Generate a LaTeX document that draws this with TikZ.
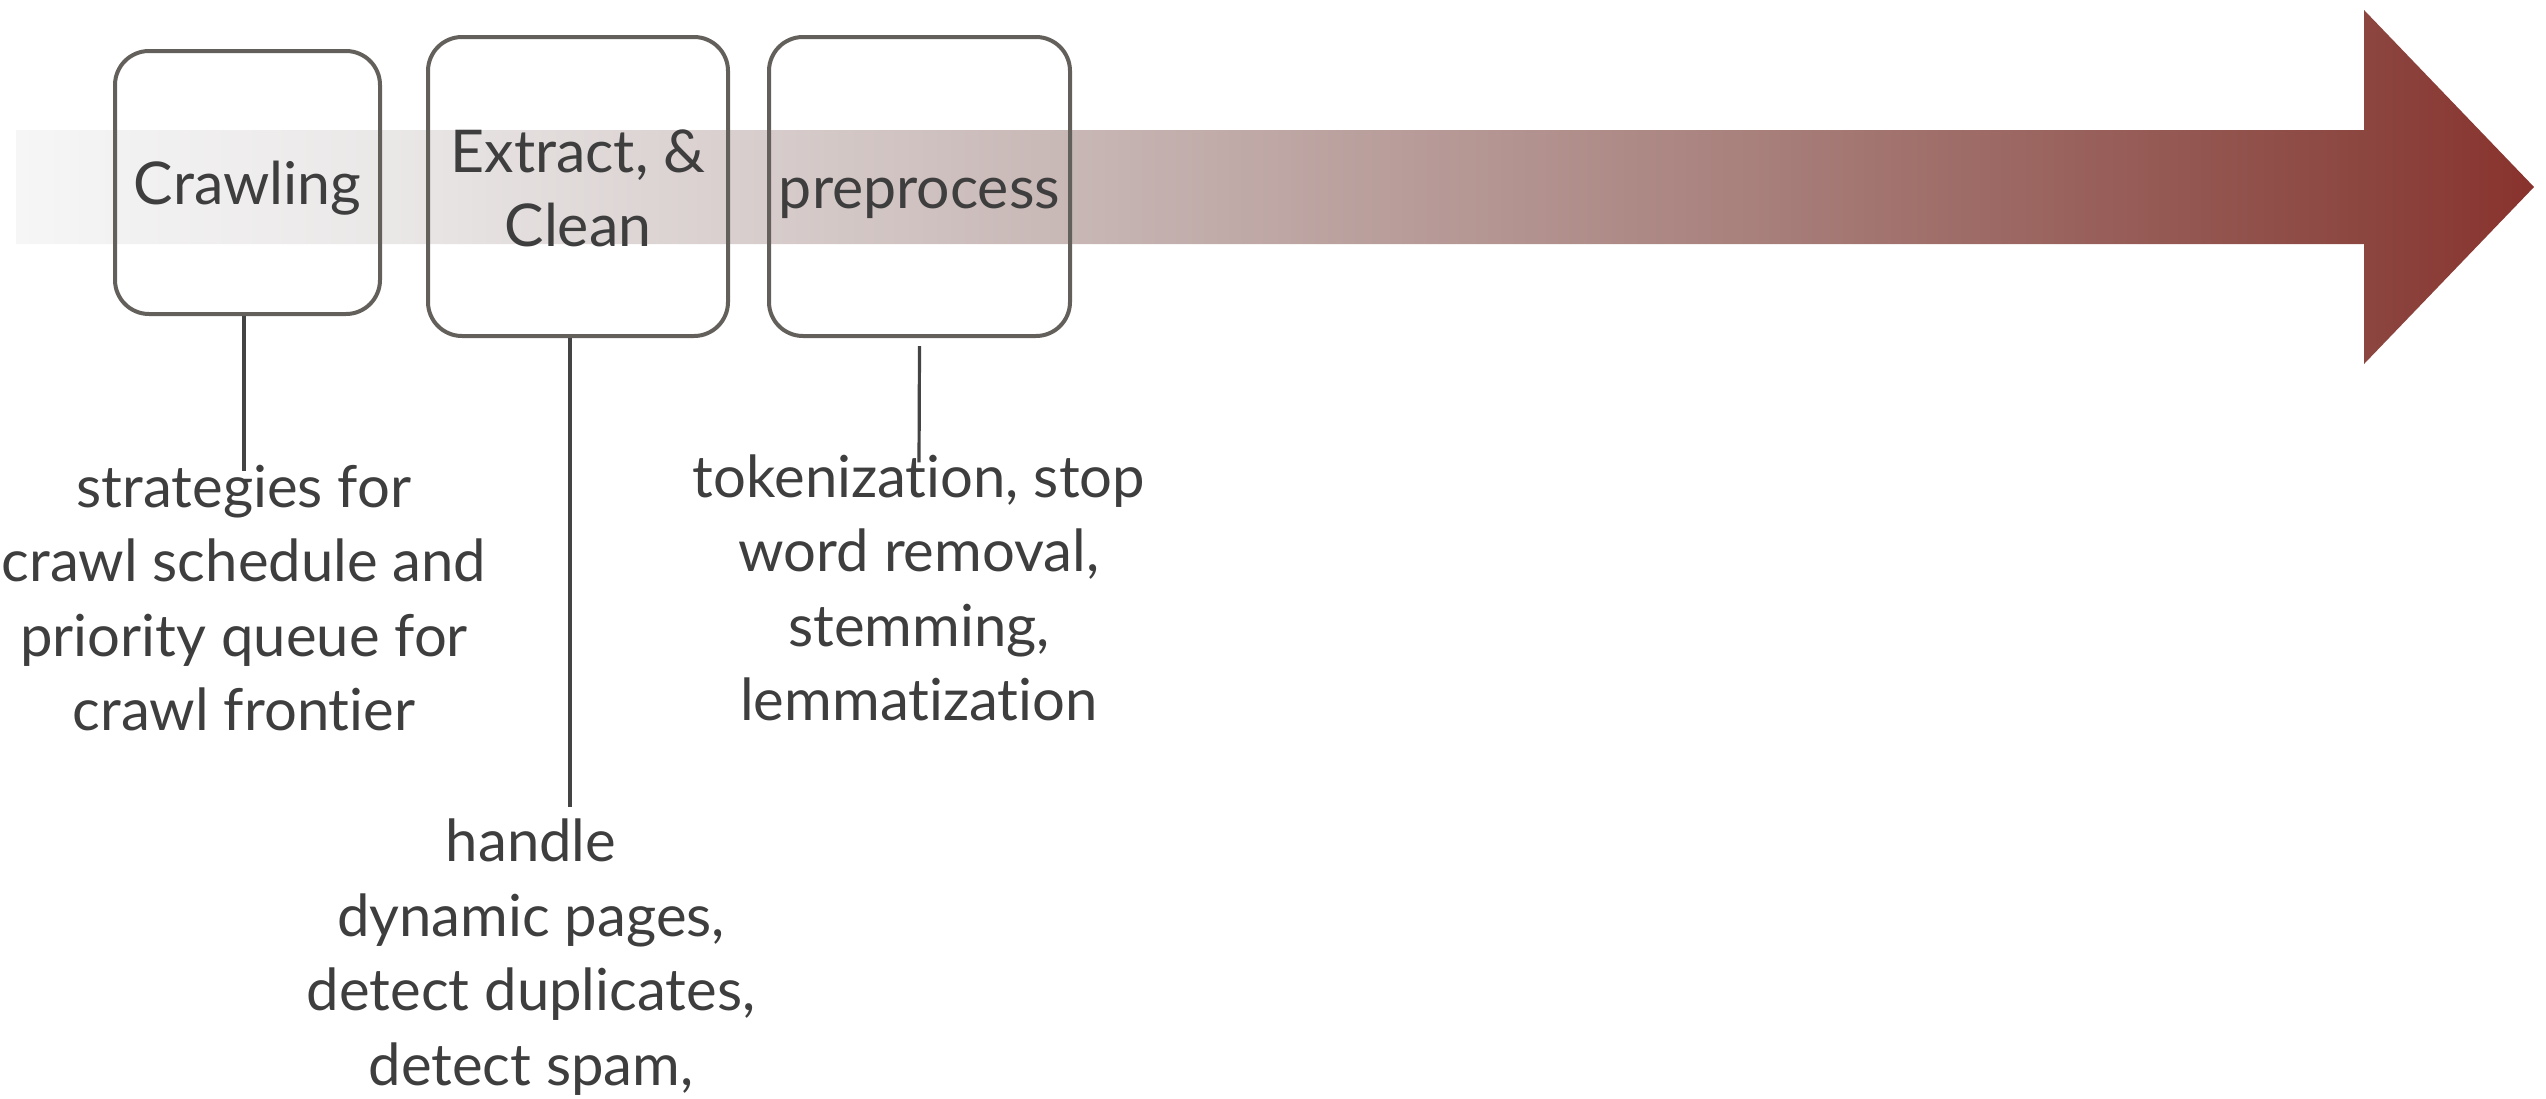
\documentclass[tikz,border=0pt]{standalone}
\usepackage{fontspec}
\setmainfont{Lato}[Ligatures=NoCommon]
\definecolor{txt}{RGB}{62,62,62}
\definecolor{boxline}{RGB}{99,96,92}
\definecolor{lineclr}{RGB}{68,68,68}
\definecolor{c0}{RGB}{246,246,246}
\definecolor{c1}{RGB}{234,231,231}
\definecolor{c2}{RGB}{198,181,179}
\definecolor{c3}{RGB}{168,128,124}
\definecolor{c4}{RGB}{140,70,64}
\definecolor{c5}{RGB}{137,50,45}
\pgfdeclarehorizontalshading{arrowshade}{100bp}{color(0bp)=(c0); color(25bp)=(c0); color(32.5bp)=(c1); color(46.5bp)=(c2); color(59.5bp)=(c3); color(71.6bp)=(c4); color(75bp)=(c5); color(100bp)=(c5)}
\tikzset{
  stage/.style={draw=boxline, line width=2pt, rounded corners=17pt, align=center,
    text=txt, inner sep=0pt, font=\fontsize{29.5pt}{37.25pt}\selectfont},
  note/.style={align=center, text=txt, inner sep=0pt, font=\fontsize{29pt}{37.2pt}\selectfont},
  leader/.style={draw=lineclr, line width=1.6pt}
}
\begin{document}
\begin{tikzpicture}[x=0.5pt, y=-0.5pt]
\useasboundingbox (0,0) rectangle (2546,1098);
% big gradient arrow
\shade[shading=arrowshade] (16,130) -- (2364,130) -- (2364,10) -- (2534,187) -- (2364,364) -- (2364,244) -- (16,244) -- cycle;
% stage boxes
\node[stage, minimum width=132.5pt, minimum height=131.5pt, text height=21.5pt, text depth=0pt] (crawl) at (247.5,182.5) {Crawling};
\node[stage, minimum width=150pt, minimum height=149.5pt, text height=60pt, text depth=0pt] (extract) at (578,186.5) {Extract, \&\\Clean};
\node[stage, minimum width=150.5pt, minimum height=149.5pt, text height=21.5pt, text depth=0pt] (pre) at (919.5,186.5) {preprocess};
% notes
\node[note] (t1) at (244,598) {strategies for\\crawl schedule and\\priority queue for\\crawl frontier};
\node[note] (t2) at (919,588) {tokenization, stop\\word removal,\\stemming,\\lemmatization};
\node[note] (t3) at (531,957) {handle\\dynamic pages,\\detect duplicates,\\detect spam,};
% leaders
\draw[leader] (crawl.south -| t1.north) -- ([yshift=-3pt]t1.north);
\draw[leader] ([xshift=-4pt]extract.south) -- ([xshift=-4pt,yshift=6pt]extract.south |- t3.north);
\draw[leader] ([yshift=-4pt]pre.south) -- ([yshift=-4pt]t2.north);
\end{tikzpicture}
\end{document}
